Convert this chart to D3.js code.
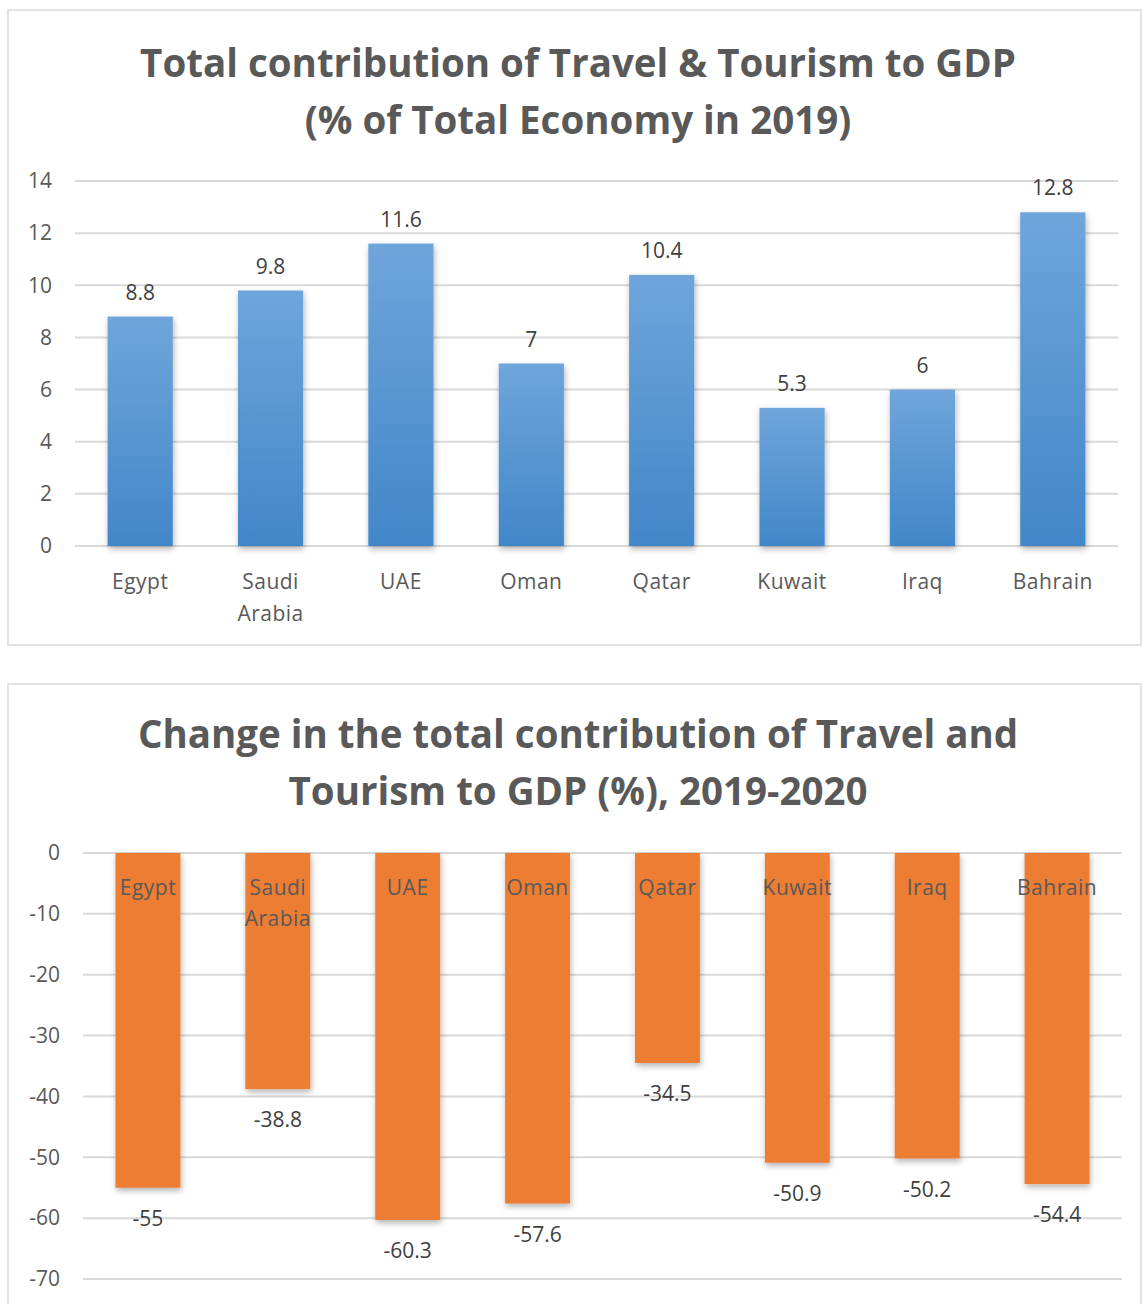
<!DOCTYPE html>
<html lang="en">
<head>
<meta charset="UTF-8">
<script src="https://d3js.org/d3.v7.min.js"></script>
<title>Travel & Tourism GDP</title>
<style>
  body { margin: 0; background: #fff; }
  svg text { font-family: 'Open Sans', 'Noto Sans', sans-serif; }
</style>
</head>
<body>
<div id="wrapper"></div>
<script>
// data
const countries = ["Egypt", "Saudi Arabia", "UAE", "Oman", "Qatar", "Kuwait", "Iraq", "Bahrain"];
const share2019 = [8.8, 9.8, 11.6, 7, 10.4, 5.3, 6, 12.8];
const change1920 = [-55, -38.8, -60.3, -57.6, -34.5, -50.9, -50.2, -54.4];
const topTicks = [0, 2, 4, 6, 8, 10, 12, 14];
const bottomTicks = [0, -10, -20, -30, -40, -50, -60, -70];
const topTitle = ["Total contribution of Travel & Tourism to GDP", "(% of Total Economy in 2019)"];
const bottomTitle = ["Change in the total contribution of Travel and", "Tourism to GDP (%), 2019-2020"];

const W = 1142, H = 1304;
const textGrey = "#595959";

const svg = d3.select("#wrapper").append("svg")
  .attr("width", W).attr("height", H);

const defs = svg.append("defs");
const grad = defs.append("linearGradient")
  .attr("id", "blueGrad").attr("x1", 0).attr("y1", 0).attr("x2", 0).attr("y2", 1);
grad.append("stop").attr("offset", "0%").attr("stop-color", "#6fa5db");
grad.append("stop").attr("offset", "100%").attr("stop-color", "#4187c9");

const shadow = defs.append("filter").attr("id", "shadow")
  .attr("x", "-20%").attr("y", "-10%").attr("width", "140%").attr("height", "125%");
shadow.append("feDropShadow")
  .attr("dx", 1).attr("dy", 3).attr("stdDeviation", 3)
  .attr("flood-color", "#000").attr("flood-opacity", 0.3);

// frames
svg.append("rect").attr("x", 8).attr("y", 10).attr("width", 1133).attr("height", 635)
  .attr("fill", "none").attr("stroke", "#d9d9d9").attr("stroke-width", 1.5);
svg.append("rect").attr("x", 8).attr("y", 684).attr("width", 1133).attr("height", 640)
  .attr("fill", "none").attr("stroke", "#d9d9d9").attr("stroke-width", 1.5);

function drawTitle(lines, y0) {
  svg.append("g").selectAll("text").data(lines).join("text")
    .attr("x", 578).attr("y", (d, i) => y0 + i * 57)
    .attr("text-anchor", "middle")
    .attr("fill", textGrey)
    .style("font-size", "38.5px").style("font-weight", 700)
    .text(d => d);
}

function drawGrid(g, yScale, ticks, x0, x1, labelX) {
  g.selectAll(".grid").data(ticks).join("line")
    .attr("x1", x0).attr("x2", x1)
    .attr("y1", d => yScale(d)).attr("y2", d => yScale(d))
    .attr("stroke", "#d9d9d9").attr("stroke-width", 2);
  g.selectAll(".tick").data(ticks).join("text")
    .attr("x", labelX).attr("y", d => yScale(d))
    .attr("dy", "0.35em")
    .attr("text-anchor", "end")
    .attr("fill", textGrey)
    .style("font-size", "21px")
    .text(d => d);
}

function catLabels(g, x, y0, lineH) {
  const labels = g.selectAll(".cat").data(countries).join("text")
    .attr("x", d => x(d) + x.bandwidth() / 2)
    .attr("y", y0)
    .attr("text-anchor", "middle")
    .attr("fill", textGrey)
    .style("font-size", "21px")
    .style("letter-spacing", "0.5px");
  labels.each(function(d) {
    const cx = d3.select(this).attr("x");
    d3.select(this).selectAll("tspan").data(d.split(" ")).join("tspan")
      .attr("x", cx)
      .attr("dy", (w, i) => i === 0 ? 0 : lineH)
      .text(w => w);
  });
}

// top chart
{
  drawTitle(topTitle, 77);
  const g = svg.append("g");
  const x = d3.scaleBand().domain(countries).range([75, 1118])
    .paddingInner(0.5).paddingOuter(0.25);
  const y = d3.scaleLinear().domain([0, 14]).range([546, 181]);
  drawGrid(g, y, topTicks, 75, 1118, 52);

  g.selectAll(".bar").data(countries).join("rect")
    .attr("x", d => x(d)).attr("width", x.bandwidth())
    .attr("y", (d, i) => y(share2019[i]))
    .attr("height", (d, i) => y(0) - y(share2019[i]))
    .attr("fill", "url(#blueGrad)")
    .attr("filter", "url(#shadow)");

  g.selectAll(".val").data(countries).join("text")
    .attr("x", d => x(d) + x.bandwidth() / 2)
    .attr("y", (d, i) => y(share2019[i]) - 17)
    .attr("text-anchor", "middle")
    .attr("fill", "#404040")
    .style("font-size", "21px")
    .text((d, i) => share2019[i]);

  catLabels(g, x, 589, 32);
}

// bottom chart
{
  drawTitle(bottomTitle, 748);
  const g = svg.append("g");
  const x = d3.scaleBand().domain(countries).range([83, 1122])
    .paddingInner(0.5).paddingOuter(0.25);
  const y = d3.scaleLinear().domain([-70, 0]).range([1279, 853]);
  drawGrid(g, y, bottomTicks, 83, 1122, 60);

  g.selectAll(".bar").data(countries).join("rect")
    .attr("x", d => x(d)).attr("width", x.bandwidth())
    .attr("y", y(0))
    .attr("height", (d, i) => y(change1920[i]) - y(0))
    .attr("fill", "#ed7d31")
    .attr("filter", "url(#shadow)");

  g.selectAll(".val").data(countries).join("text")
    .attr("x", d => x(d) + x.bandwidth() / 2)
    .attr("y", (d, i) => y(change1920[i]) + 38)
    .attr("text-anchor", "middle")
    .attr("fill", "#404040")
    .style("font-size", "21px")
    .text((d, i) => change1920[i]);

  catLabels(g, x, 895, 31);
}
</script>
</body>
</html>
